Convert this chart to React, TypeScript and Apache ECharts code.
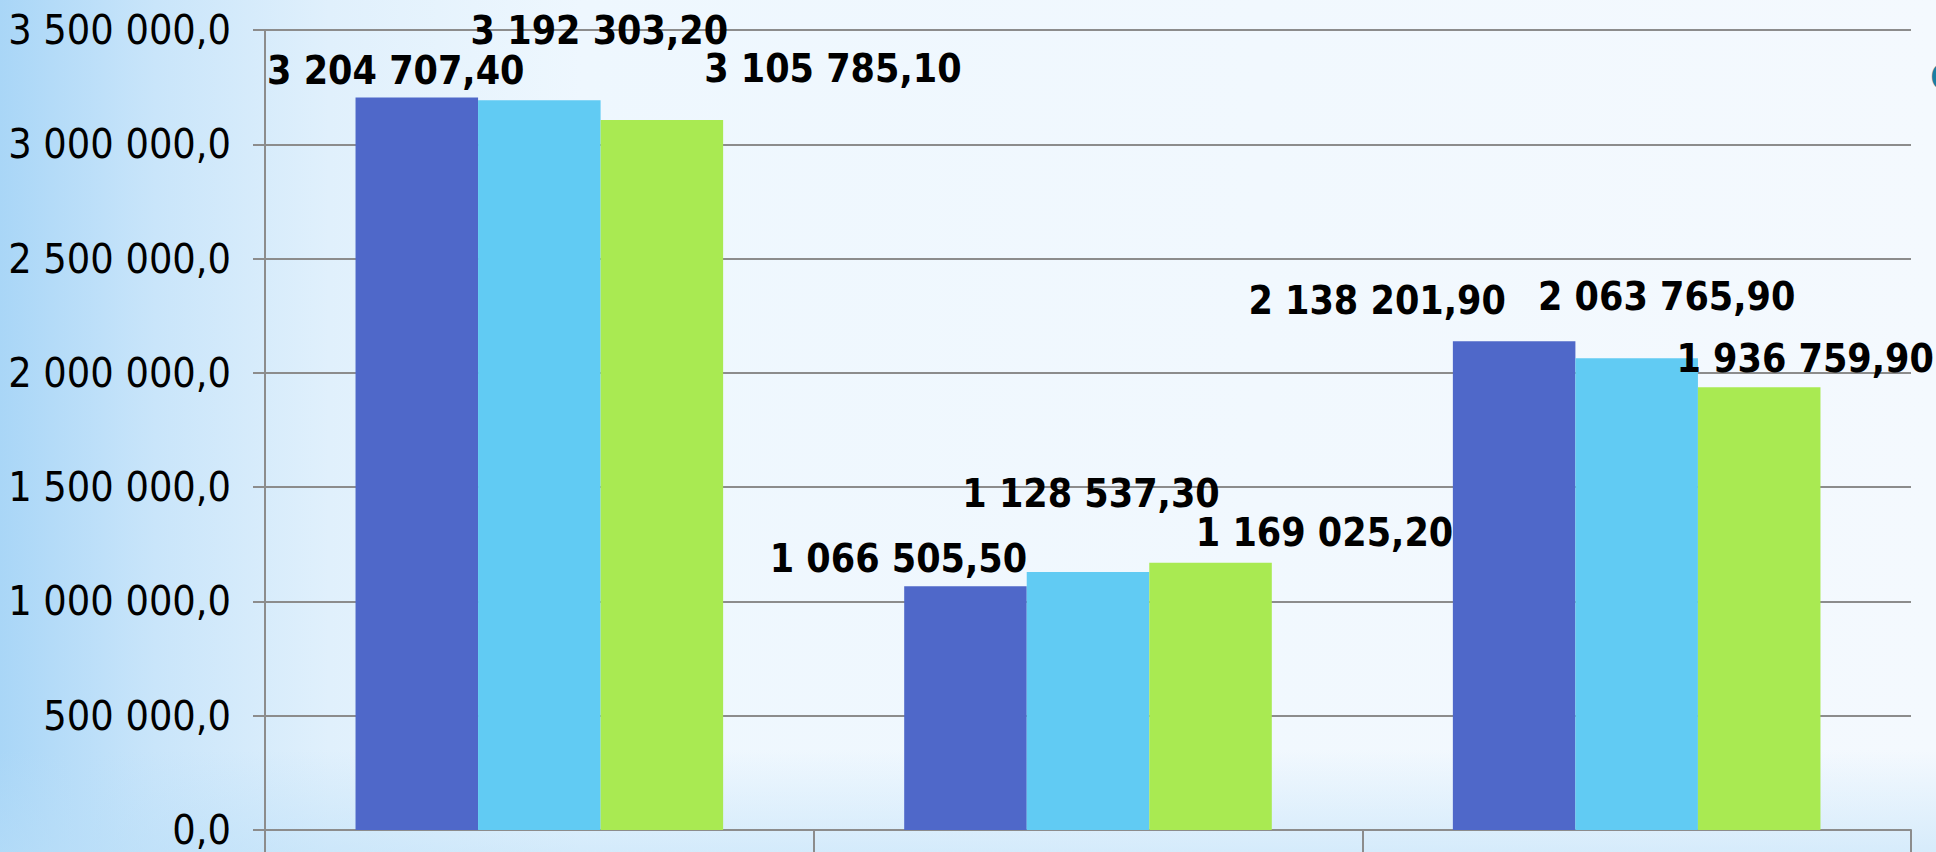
import React, { useEffect, useRef } from "react";
import * as echarts from "echarts";

const categories = ["A", "B", "C"];
const series1 = [3204707.4, 1066505.5, 2138201.9];
const series2 = [3192303.2, 1128537.3, 2063765.9];
const series3 = [3105785.1, 1169025.2, 1936759.9];
const yTicks = { min: 0, max: 3500000, interval: 500000 };

const colors = ["#4F68C9", "#61CBF3", "#A9EA52"];
// label offsets [dx, dy] per series per category (layout only)
const labelOffsets = [
  [[-21, -2], [-67, -3], [-137, -16]],
  [[60, -45], [3, -54], [30, -37]],
  [[171, -27], [114, -6], [46, -4]],
];

const FONT = "'DejaVu Sans Condensed', 'DejaVu Sans', sans-serif";

function fmt(v: number, d: number) {
  const s = v.toFixed(d);
  const [i, f] = s.split(".");
  const ii = i.replace(/\B(?=(\d{3})+(?!\d))/g, " ");
  return ii + "," + f;
}

export default function App() {
  const ref = useRef<HTMLDivElement>(null);
  useEffect(() => {
    document.body.style.margin = "0";
    const chart = echarts.init(ref.current!, null, { renderer: "svg" });
    const all = [series1, series2, series3];
    chart.setOption({
      animation: false,
      grid: { left: 265, right: 25, top: 30, bottom: 22, containLabel: false },
      xAxis: {
        type: "category",
        data: categories,
        axisLine: { lineStyle: { color: "#8c8c8c", width: 2 } },
        axisTick: { show: true, length: 22, interval: 0, alignWithLabel: false, lineStyle: { color: "#8c8c8c", width: 2 } },
        axisLabel: { show: false },
      },
      yAxis: {
        type: "value",
        min: yTicks.min,
        max: yTicks.max,
        interval: yTicks.interval,
        axisLine: { show: true, lineStyle: { color: "#8c8c8c", width: 2 } },
        axisTick: { show: true, length: 12, lineStyle: { color: "#8c8c8c", width: 2 } },
        splitLine: { lineStyle: { color: "#8c8c8c", width: 2 } },
        axisLabel: {
          margin: 34,
          fontFamily: FONT,
          fontSize: 41,
          color: "#000",
          formatter: (v: number) => fmt(v, 1),
        },
      },
      graphic: [
        {
          type: "text",
          left: 1930,
          top: 58,
          style: { text: "О", font: "bold 38px 'DejaVu Sans'", fill: "#1a7fa3" },
        },
      ],
      series: all.map((vals, si) => ({
        type: "bar",
        barGap: "0%",
        barCategoryGap: "33%",
        itemStyle: { color: colors[si] },
        data: vals.map((v, ci) => ({
          value: v,
          label: {
            show: true,
            position: "top",
            offset: labelOffsets[si][ci],
            formatter: () => fmt(v, 2),
            fontFamily: FONT,
            fontWeight: "bold",
            fontSize: 39,
            color: "#000",
          },
        })),
      })),
    });
    return () => chart.dispose();
  }, []);
  return (
    <div
      ref={ref}
      style={{
        position: "absolute",
        left: 0,
        top: 0,
        width: 1936,
        height: 852,
        background:
          "linear-gradient(to top, rgba(185,222,248,0.5) 0%, rgba(255,255,255,0) 12%), linear-gradient(to right, #a9d6f7 0%, #c9e5fa 8%, #e0f0fc 17%, #eef7fe 30%, #f4f9fe 100%)",
      }}
    />
  );
}
